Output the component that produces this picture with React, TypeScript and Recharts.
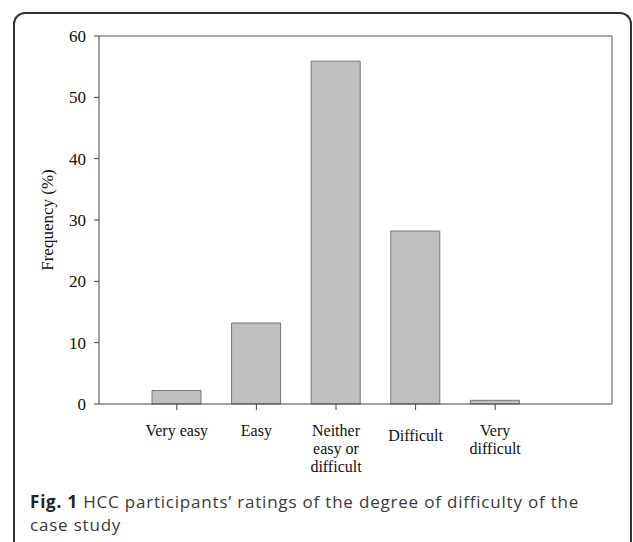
import React from 'react'
import { BarChart, Bar, XAxis, YAxis } from 'recharts'

const categories = ['Very easy', 'Easy', 'Neither easy or difficult', 'Difficult', 'Very difficult']
const tickLines = [['Very easy'], ['Easy'], ['Neither', 'easy or', 'difficult'], ['Difficult'], ['Very', 'difficult']]
const frequency = [2.2, 13.2, 55.9, 28.2, 0.6]
const yTicks = [0, 10, 20, 30, 40, 50, 60]
const captionLabel = 'Fig. 1'
const captionLines = ['HCC participants’ ratings of the degree of difficulty of the', 'case study']

const data = categories.map((name, i) => ({ name, value: frequency[i] }))

const serif = '"Liberation Serif", "Times New Roman", serif'
const axisColor = '#444'

function CategoryTick(props: any) {
  const { x, y, payload, index } = props
  const lines: string[] = tickLines[index] ?? [payload.value]
  // SigmaPlot drops the lone "Difficult" label a bit lower than its neighbours
  const shift = lines.length === 1 && payload.value === 'Difficult' ? 5 : 0
  return (
    <text x={x} y={y + 24 + shift} textAnchor="middle" fontFamily={serif} fontSize={16} fill="#111">
      {lines.map((line, i) => (
        <tspan key={i} x={x} dy={i === 0 ? 0 : 18}>
          {line}
        </tspan>
      ))}
    </text>
  )
}

export default function App() {
  return (
    <div style={{ position: 'absolute', left: 0, top: 0, width: 633, height: 542, background: '#fff', overflow: 'hidden' }}>
      <div
        style={{
          position: 'absolute',
          left: 13,
          top: 12,
          width: 619,
          height: 560,
          borderLeft: '2px solid #333',
          borderTop: '2px solid #333',
          borderRight: '2px solid #333',
          borderRadius: '12px 12px 0 0',
          boxSizing: 'border-box',
        }}
      />
      <div style={{ position: 'absolute', left: 0, top: 0 }}>
        <BarChart width={633} height={490} data={data} margin={{ top: 35, right: 20, bottom: 16, left: 0 }}>
          <XAxis
            dataKey="name"
            interval={0}
            padding={{ left: 38, right: 77 }}
            height={70}
            tickSize={6}
            axisLine={{ stroke: axisColor }}
            tickLine={{ stroke: axisColor }}
            tick={<CategoryTick />}
          />
          <XAxis
            xAxisId="top"
            dataKey="name"
            orientation="top"
            height={1}
            tick={false}
            tickLine={false}
            axisLine={{ stroke: '#555' }}
          />
          <YAxis
            domain={[0, 60]}
            ticks={yTicks}
            width={99}
            tickSize={5}
            tickMargin={8}
            axisLine={{ stroke: axisColor }}
            tickLine={{ stroke: axisColor }}
            tick={{ fontFamily: serif, fontSize: 17, fill: '#111' }}
            label={{
              value: 'Frequency (%)',
              angle: -90,
              position: 'center',
              dx: -3,
              style: { fontFamily: serif, fontSize: 17, fill: '#111', textAnchor: 'middle' },
            }}
          />
          <YAxis
            yAxisId="right"
            orientation="right"
            domain={[0, 60]}
            width={1}
            tick={false}
            tickLine={false}
            axisLine={{ stroke: '#555' }}
          />
          <Bar dataKey="value" barSize={49} fill="#c0c0c0" stroke="#777" strokeWidth={1} isAnimationActive={false} />
        </BarChart>
      </div>
      <div
        style={{
          position: 'absolute',
          left: 30,
          top: 490,
          fontFamily: '"Open Sans", sans-serif',
          fontSize: 17,
          letterSpacing: 0.8,
          lineHeight: '23px',
          color: '#3a3a3a',
          whiteSpace: 'nowrap',
        }}
      >
        <div>
          <b style={{ color: '#222' }}>{captionLabel}</b> <span>{captionLines[0]}</span>
        </div>
        <div>{captionLines[1]}</div>
      </div>
    </div>
  )
}
